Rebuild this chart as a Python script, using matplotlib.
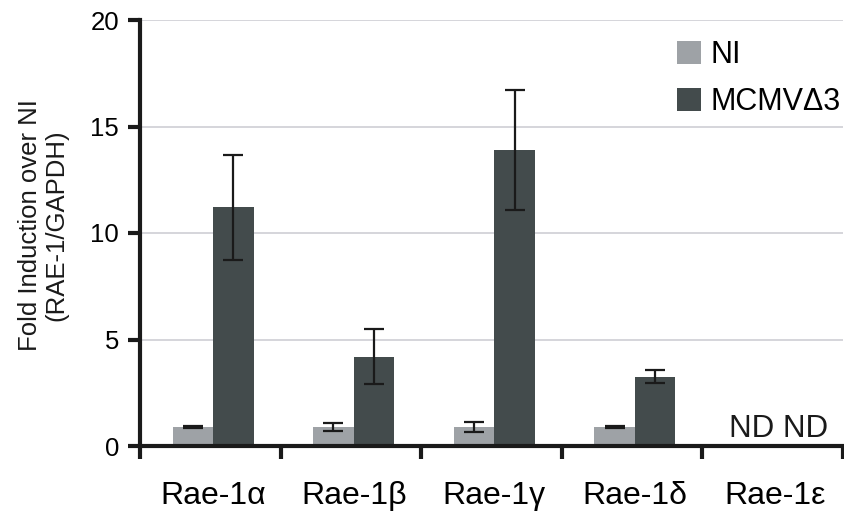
import matplotlib
matplotlib.use("Agg")
import matplotlib.pyplot as plt
import numpy as np

plt.rcParams['font.family'] = ['Liberation Sans', 'DejaVu Sans']

categories = ["Rae-1α", "Rae-1β", "Rae-1γ", "Rae-1δ", "Rae-1ε"]
ni_vals = [0.9, 0.9, 0.9, 0.9, np.nan]
ni_err = [0.05, 0.18, 0.25, 0.04, np.nan]
mcmv_vals = [11.2, 4.2, 13.9, 3.25, np.nan]
mcmv_err = [2.45, 1.3, 2.8, 0.3, np.nan]
series_names = ["NI", "MCMVΔ3"]
colors = ["#9ea2a6", "#434b4c"]

fig = plt.figure(figsize=(8.45, 5.18), dpi=100)
ax = fig.add_axes([140/845, 1-446/518, 703/845, 426/518])

x = np.arange(len(categories))
w = 0.288
b1 = ax.bar(x - w/2, ni_vals, w, color=colors[0], label=series_names[0], zorder=2)
b2 = ax.bar(x + w/2, mcmv_vals, w, color=colors[1], label=series_names[1], zorder=2)
ax.errorbar(x - w/2, ni_vals, yerr=ni_err, fmt='none', ecolor='#1a1a1a', elinewidth=1.6, capsize=7, capthick=1.6, zorder=3)
ax.errorbar(x + w/2, mcmv_vals, yerr=mcmv_err, fmt='none', ecolor='#1a1a1a', elinewidth=1.6, capsize=7, capthick=1.6, zorder=3)

ax.text(x[4] + 0.02, 0.42, "ND ND", ha='center', va='baseline', fontsize=22.5, color='#1a1a1a')

ax.set_xlim(-0.52, 4.48)
ax.set_ylim(0, 20)
ax.set_yticks([0, 5, 10, 15, 20])
ax.yaxis.grid(True, color='#d2d2d8', linewidth=1.3, zorder=0)
ax.set_axisbelow(True)

bounds = np.arange(-0.52, 4.49, 1.0)
ax.set_xticks(bounds)
ax.set_xticklabels([])
ax.set_xticks(x, minor=True)
ax.set_xticklabels(categories, minor=True, fontsize=23)
ax.tick_params(axis='x', which='minor', length=0, pad=25)
ax.tick_params(axis='x', which='major', length=9, width=3, direction='out', color='#1a1a1a')
ax.tick_params(axis='y', length=9, width=3, direction='out', color='#1a1a1a', labelsize=18.5, pad=6)

for s in ['top', 'right']:
    ax.spines[s].set_visible(False)
for s in ['left', 'bottom']:
    ax.spines[s].set_linewidth(3)
    ax.spines[s].set_color('#1a1a1a')
    ax.spines[s].set_zorder(4)

ax.set_ylabel("Fold Induction over NI\n(RAE-1/GAPDH)", fontsize=18.5, linespacing=1.1, color='#1a1a1a')
ax.yaxis.set_label_coords(-0.102, 0.519)

leg = fig.legend(handles=[b1, b2], labels=series_names, loc='upper left',
                 bbox_to_anchor=(677/845, 1-40/518), frameon=False, fontsize=22,
                 handlelength=0.8, handleheight=0.8, handletextpad=0.3,
                 labelspacing=0.55, borderpad=0, borderaxespad=0)

fig.savefig("out.png", dpi=100)
